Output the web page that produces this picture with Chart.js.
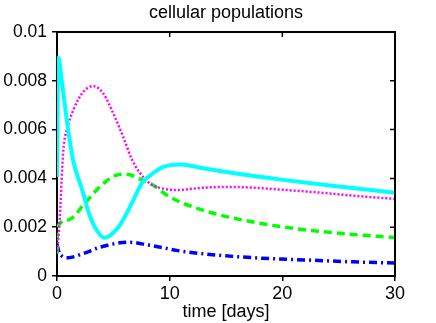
<!DOCTYPE html>
<html>
<head>
<meta charset="utf-8">
<script src="https://cdn.jsdelivr.net/npm/chart.js@4/dist/chart.umd.min.js"></script>
<style>
  html, body { margin: 0; padding: 0; background: #fff; }
  #wrap { width: 436px; height: 323px; }
</style>
</head>
<body>
<div id="wrap"><canvas id="chart" width="436" height="323"></canvas></div>
<script>
// values
const cyanDays = [0, 0.12, 0.42, 0.7, 1.0, 1.45, 1.75, 2.25, 2.78, 3.37, 4.2, 5.44, 6.63, 7.51, 8.5, 9.43, 10.9, 13.0, 15.9, 19.9, 24.8, 30];
const cyanVals = [0.00406, 0.00895, 0.0080, 0.0070, 0.00595, 0.0047, 0.0042, 0.00351, 0.00265, 0.0020, 0.00157, 0.0020, 0.00297, 0.00379, 0.0042, 0.00447, 0.00457, 0.00442, 0.0042, 0.00395, 0.00368, 0.00341];

const magentaDays = [0, 0.2, 0.56, 0.86, 1.45, 2.34, 3.22, 4.11, 5.0, 5.88, 6.62, 7.2, 8.25, 9.43, 10.6, 13.0, 15.5, 17.4, 19.9, 23.3, 26.6, 30];
const magentaVals = [0.0010, 0.0020, 0.00515, 0.00598, 0.0068, 0.00755, 0.00778, 0.00748, 0.00666, 0.0057, 0.00481, 0.00433, 0.00379, 0.00358, 0.00352, 0.00362, 0.00365, 0.00362, 0.00354, 0.00342, 0.00328, 0.00316];

const greenDays = [0, 0.05, 1.0, 2.5, 3.9, 5.2, 6.18, 7.4, 8.55, 10.0, 13.0, 17.4, 21.9, 26.3, 30];
const greenVals = [0.00092, 0.0020, 0.0023, 0.0030, 0.0037, 0.00412, 0.00417, 0.00397, 0.00372, 0.00324, 0.00269, 0.00221, 0.0019, 0.0017, 0.00158];

const blueDays = [0, 0.2, 0.5, 1.0, 2.34, 3.82, 5.6, 6.5, 7.96, 9.43, 10.6, 13.0, 17.4, 21.9, 26.3, 30];
const blueVals = [0.0013, 0.00095, 0.0008, 0.00075, 0.00092, 0.00118, 0.00136, 0.00138, 0.00128, 0.00116, 0.00105, 0.00091, 0.00075, 0.00066, 0.00058, 0.00053];

const xTicks = [0, 10, 20, 30];
const yTicks = [0, 0.002, 0.004, 0.006, 0.008, 0.01];
const chartTitle = 'cellular populations';

function pts(days, vals) {
    return days.map((d, i) => ({ x: d, y: vals[i] }));
}

const FONT = "'Liberation Sans', Arial, Helvetica, sans-serif";

// title over the plot area, top and right frame lines with inward ticks
const framePlugin = {
    id: 'frame',
    afterDraw(chart) {
        const ctx = chart.ctx;
        const a = chart.chartArea;
        const xs = chart.scales.x;
        const ys = chart.scales.y;
        ctx.save();
        ctx.fillStyle = '#000';
        ctx.font = '18px ' + FONT;
        ctx.textAlign = 'center';
        ctx.textBaseline = 'alphabetic';
        ctx.fillText(chartTitle, (a.left + a.right) / 2, 17.5);

        ctx.strokeStyle = '#000';
        ctx.lineWidth = 2;
        ctx.beginPath();
        ctx.moveTo(a.left - 1, a.top);
        ctx.lineTo(a.right, a.top);
        ctx.lineTo(a.right, a.bottom + 1);
        ctx.stroke();
        ctx.lineWidth = 1.5;
        ctx.beginPath();
        xTicks.slice(1, -1).forEach(t => {
            const px = xs.getPixelForValue(t);
            ctx.moveTo(px, a.top);
            ctx.lineTo(px, a.top + 5);
        });
        yTicks.slice(1, -1).forEach(t => {
            const py = ys.getPixelForValue(t);
            ctx.moveTo(a.right, py);
            ctx.lineTo(a.right - 5, py);
        });
        ctx.stroke();
        ctx.restore();
    }
};

new Chart(document.getElementById('chart').getContext('2d'), {
    type: 'line',
    data: {
        datasets: [
            {
                data: pts(cyanDays, cyanVals),
                borderColor: '#00ffff',
                borderWidth: 4
            },
            {
                data: pts(magentaDays, magentaVals),
                borderColor: '#ff00ff',
                borderWidth: 2.5,
                borderDash: [2, 2]
            },
            {
                data: pts(greenDays, greenVals),
                borderColor: '#00ff00',
                borderWidth: 3.5,
                borderDash: [8, 5]
            },
            {
                data: pts(blueDays, blueVals),
                borderColor: '#0000ff',
                borderWidth: 3.5,
                borderDash: [8, 4, 2, 4]
            }
        ]
    },
    options: {
        responsive: false,
        animation: false,
        devicePixelRatio: 1,
        layout: { padding: { top: 32, right: 41, bottom: 0, left: 0 } },
        elements: {
            point: { radius: 0 },
            line: { cubicInterpolationMode: 'monotone', fill: false, borderCapStyle: 'butt' }
        },
        plugins: {
            legend: { display: false },
            tooltip: { enabled: false },
            title: { display: false }
        },
        scales: {
            x: {
                type: 'linear',
                min: 0,
                max: 30,
                afterBuildTicks: s => { s.ticks = xTicks.map(v => ({ value: v })); },
                afterFit: s => { s.height = 47; },
                grid: { drawOnChartArea: false, drawTicks: true, tickLength: 5, color: '#000', lineWidth: 1.5 },
                border: { color: '#000', width: 2 },
                ticks: { color: '#000', font: { family: FONT, size: 18 }, padding: 2, maxRotation: 0 },
                title: {
                    display: true,
                    text: 'time [days]',
                    color: '#000',
                    font: { family: FONT, size: 18 },
                    padding: { top: 0, bottom: 0 }
                }
            },
            y: {
                min: 0,
                max: 0.01,
                afterBuildTicks: s => { s.ticks = yTicks.map(v => ({ value: v })); },
                afterFit: s => { s.width = 57; },
                grid: { drawOnChartArea: false, drawTicks: true, tickLength: 5, color: '#000', lineWidth: 1.5 },
                border: { color: '#000', width: 2 },
                ticks: {
                    color: '#000',
                    font: { family: FONT, size: 17.5 },
                    padding: 5,
                    callback: v => String(+v.toFixed(3))
                }
            }
        }
    },
    plugins: [framePlugin]
});
</script>
</body>
</html>
